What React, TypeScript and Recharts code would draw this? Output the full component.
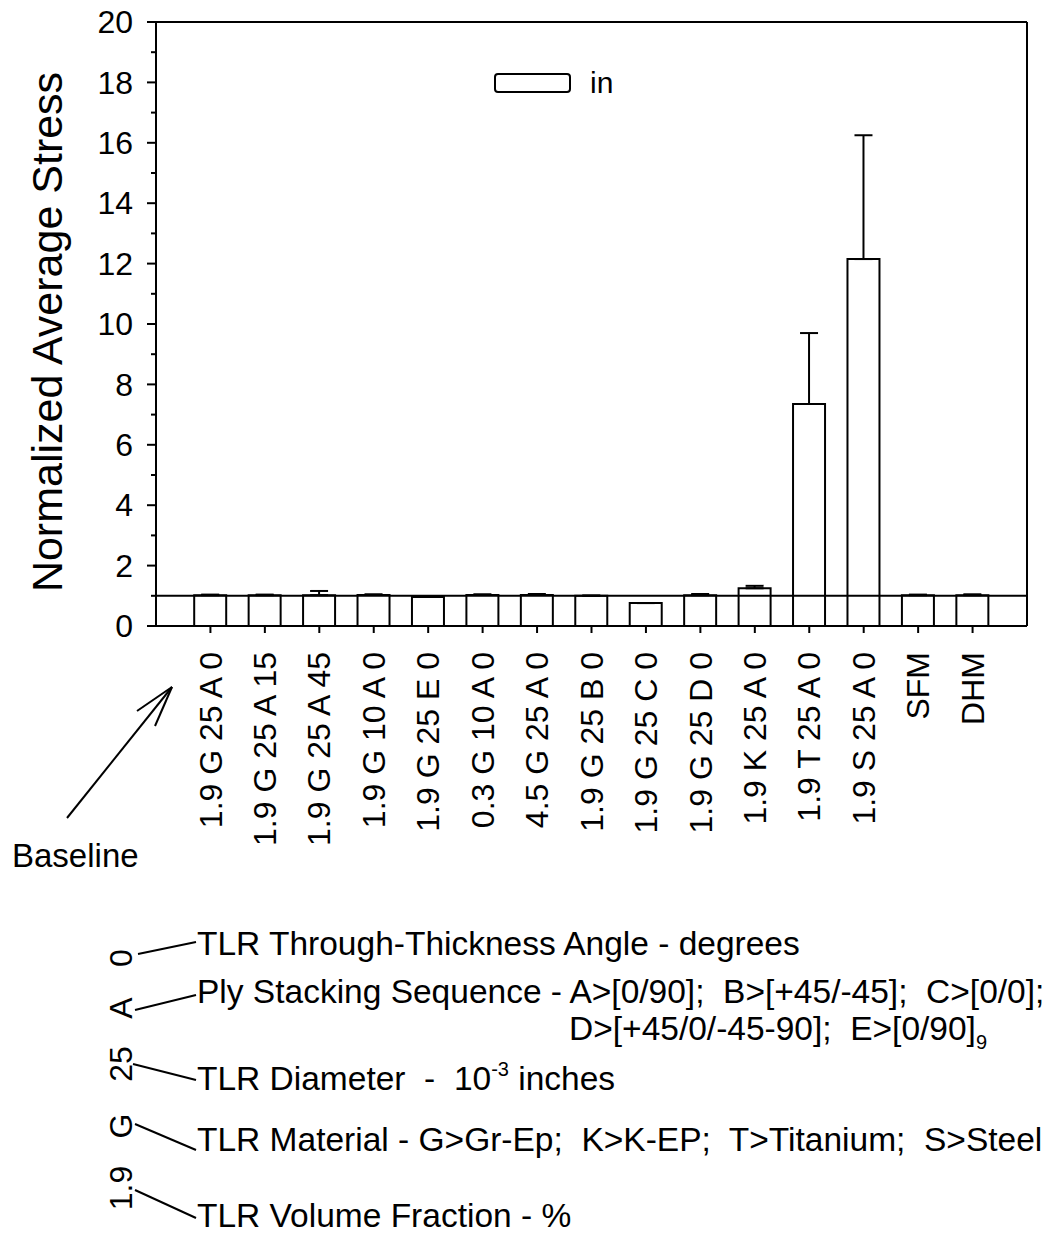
import React from "react";
import { BarChart, Bar, XAxis, YAxis, ErrorBar, ReferenceLine, Legend } from "recharts";

// specimen codes: volume fraction, material, diameter, stacking, angle
const categories = [
  "1.9 G 25 A 0",
  "1.9 G 25 A 15",
  "1.9 G 25 A 45",
  "1.9 G 10 A 0",
  "1.9 G 25 E 0",
  "0.3 G 10 A 0",
  "4.5 G 25 A 0",
  "1.9 G 25 B 0",
  "1.9 G 25 C 0",
  "1.9 G 25 D 0",
  "1.9 K 25 A 0",
  "1.9 T 25 A 0",
  "1.9 S 25 A 0",
  "SFM",
  "DHM",
];
const stressIn = [1.02, 1.02, 1.02, 1.03, 0.96, 1.03, 1.03, 1.0, 0.76, 1.02, 1.25, 7.35, 12.15, 1.02, 1.02];
const stressErrUp = [0.02, 0.02, 0.14, 0.02, 0, 0.02, 0.03, 0.01, 0, 0.04, 0.08, 2.35, 4.1, 0.02, 0.03];
const yTicks = [0, 1, 2, 3, 4, 5, 6, 7, 8, 9, 10, 11, 12, 13, 14, 15, 16, 17, 18, 19, 20];
const yLabelTicks = [0, 2, 4, 6, 8, 10, 12, 14, 16, 18, 20];
const baselineValue = 1;

const data = categories.map((name, i) => ({
  name,
  stress: stressIn[i],
  err: [0, stressErrUp[i]],
}));

const FONT = "'Liberation Sans', Arial, Helvetica, sans-serif";

const LeftTick = ({ x, y, payload }: any) => {
  const major = yLabelTicks.includes(payload.value);
  return (
    <g>
      <line x1={x - (major ? 9 : 5)} x2={x} y1={y} y2={y} stroke="#000" strokeWidth={2} />
      {major && (
        <text x={x - 23} y={y} dy="0.35em" textAnchor="end" fontSize={32} fontFamily={FONT} fill="#000">
          {payload.value}
        </text>
      )}
    </g>
  );
};

const RightTick = ({ x, y }: any) => (
  <line x1={x - 6} x2={x} y1={y} y2={y} stroke="#000" strokeWidth={2} />
);

const BottomTick = ({ x, y, payload }: any) => (
  <text
    x={x}
    y={y}
    transform={`rotate(-90, ${x}, ${y})`}
    textAnchor="end"
    dy="0.35em"
    fontSize={32}
    fontFamily={FONT}
    fill="#000"
  >
    {payload.value}
  </text>
);

const LegendBox = ({ payload }: any) => (
  <svg width={220} height={50} style={{ overflow: "visible" }}>
    {(payload || []).map((p: any) => (
      <g key={p.value}>
        <rect x={5} y={14} width={75} height={18} rx={3} fill="#fff" stroke="#000" strokeWidth={2} />
        <text x={100} y={33} fontSize={30} fontFamily={FONT} fill="#000">
          {p.value}
        </text>
      </g>
    ))}
  </svg>
);

const Annotations = () => {
  const t = { fontFamily: FONT, fill: "#000" };
  const key = (label: string, cy: number) => (
    <text x={121} y={cy} transform={`rotate(-90, 121, ${cy})`} textAnchor="middle" dy="0.35em" fontSize={32} {...t}>
      {label}
    </text>
  );
  return (
    <svg width={1056} height={1233} style={{ position: "absolute", left: 0, top: 0, pointerEvents: "none" }}>
      <text x={12} y={867} fontSize={33} {...t}>Baseline</text>
      <g stroke="#000" strokeWidth={2} fill="none">
        <line x1={67} y1={818} x2={172} y2={687} />
        <line x1={172} y1={687} x2={137} y2={711} />
        <line x1={172} y1={687} x2={155} y2={726} />
      </g>

      {key("0", 958)}
      {key("A", 1008)}
      {key("25", 1064)}
      {key("G", 1126)}
      {key("1.9", 1188)}
      <g stroke="#000" strokeWidth={2}>
        <line x1={138} y1={954} x2={196} y2={942} />
        <line x1={135} y1={1010} x2={196} y2={995} />
        <line x1={133} y1={1064} x2={196} y2={1080} />
        <line x1={135} y1={1124} x2={196} y2={1150} />
        <line x1={135} y1={1190} x2={196} y2={1218} />
      </g>

      <text x={197} y={955} fontSize={33.5} {...t}>TLR Through-Thickness Angle - degrees</text>
      <text x={197} y={1003} fontSize={33.5} {...t} xmlSpace="preserve">
        Ply Stacking Sequence - A&gt;[0/90];  B&gt;[+45/-45];  C&gt;[0/0];
      </text>
      <text x={569} y={1040} fontSize={33.5} {...t} xmlSpace="preserve">
        D&gt;[+45/0/-45-90];  E&gt;[0/90]<tspan fontSize={20} dy={9}>9</tspan>
      </text>
      <text x={197} y={1090} fontSize={33.5} {...t} xmlSpace="preserve">
        TLR Diameter  -  10<tspan fontSize={20} dy={-14}>-3</tspan>
        <tspan dy={14}> inches</tspan>
      </text>
      <text x={197} y={1151} fontSize={33.5} {...t} xmlSpace="preserve">
        TLR Material - G&gt;Gr-Ep;  K&gt;K-EP;  T&gt;Titanium;  S&gt;Steel
      </text>
      <text x={197} y={1227} fontSize={33.5} {...t}>TLR Volume Fraction - %</text>
    </svg>
  );
};

const App = () => {
  return (
    <div style={{ position: "absolute", left: 0, top: 0, width: 1056, height: 1233, background: "#fff", fontFamily: FONT }}>
      <BarChart width={1056} height={1233} data={data} margin={{ top: 22, right: 0, bottom: 0, left: 0 }}>
        <XAxis
          dataKey="name"
          type="category"
          interval={0}
          height={607}
          padding={{ left: 27.2, right: 27.2 }}
          axisLine={{ stroke: "#000", strokeWidth: 2 }}
          tickLine={{ stroke: "#000", strokeWidth: 2 }}
          tickSize={7}
          tickMargin={19}
          tick={<BottomTick />}
        />
        <YAxis
          yAxisId="left"
          orientation="left"
          width={156}
          type="number"
          domain={[0, 20]}
          ticks={yTicks}
          interval={0}
          tickSize={0}
          tickMargin={0}
          tickLine={false}
          axisLine={{ stroke: "#000", strokeWidth: 2 }}
          tick={<LeftTick />}
          label={{
            position: "insideLeft",
            content: () => (
              <text
                x={47}
                y={332}
                transform="rotate(-90, 47, 332)"
                textAnchor="middle"
                dy="0.35em"
                fontSize={43}
                fontFamily={FONT}
                fill="#000"
              >
                Normalized Average Stress
              </text>
            ),
          }}
        />
        <YAxis
          yAxisId="right"
          orientation="right"
          width={29}
          type="number"
          domain={[0, 20]}
          ticks={yTicks}
          interval={0}
          tickSize={0}
          tickMargin={0}
          tickLine={false}
          axisLine={{ stroke: "#000", strokeWidth: 2 }}
          tick={<RightTick />}
        />
        <Legend
          layout="horizontal"
          verticalAlign="middle"
          align="center"
          wrapperStyle={{ left: 490, top: 60, width: 220, height: 50 }}
          content={<LegendBox />}
        />
        <Bar
          yAxisId="left"
          dataKey="stress"
          name="in"
          fill="none"
          stroke="#000"
          strokeWidth={2}
          barSize={32}
          isAnimationActive={false}
        >
          <ErrorBar dataKey="err" width={9} stroke="#000" strokeWidth={2} direction="y" />
        </Bar>
        <ReferenceLine yAxisId="left" y={baselineValue} stroke="#000" strokeWidth={2} />
        <ReferenceLine yAxisId="left" y={20} stroke="#000" strokeWidth={2} />
      </BarChart>
      <Annotations />
    </div>
  );
};

export default App;
